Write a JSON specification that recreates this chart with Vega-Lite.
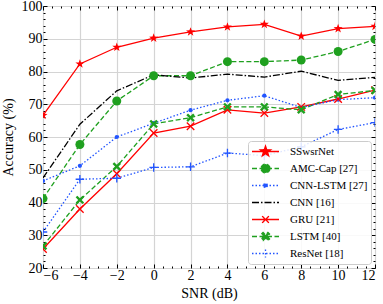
{
  "$schema": "https://vega.github.io/schema/vega-lite/v6.json",
  "width": 332,
  "height": 262,
  "autosize": {"type": "none"},
  "padding": {"left": 43, "top": 6, "right": 8, "bottom": 36},
  "config": {
    "font": "Liberation Serif",
    "view": {"stroke": "#222", "strokeWidth": 1},
    "axis": {
      "labelFont": "Liberation Serif", "labelFontSize": 14, "labelColor": "#000",
      "titleFont": "Liberation Serif", "titleFontSize": 14, "titleFontWeight": "normal", "titleColor": "#000",
      "tickColor": "#000", "tickWidth": 1, "domain": false, "gridColor": "#d4d4d4", "gridWidth": 1.2
    },
    "legend": {"labelFont": "Liberation Serif", "labelFontSize": 11, "labelColor": "#000"}
  },
  "data": {"values": [
    {"series": "SSwsrNet", "snr": -6, "acc": 66.6}, {"series": "SSwsrNet", "snr": -4, "acc": 82.3}, {"series": "SSwsrNet", "snr": -2, "acc": 87.4}, {"series": "SSwsrNet", "snr": 0, "acc": 90.2}, {"series": "SSwsrNet", "snr": 2, "acc": 92.1}, {"series": "SSwsrNet", "snr": 4, "acc": 93.6}, {"series": "SSwsrNet", "snr": 6, "acc": 94.4}, {"series": "SSwsrNet", "snr": 8, "acc": 90.8}, {"series": "SSwsrNet", "snr": 10, "acc": 93.1}, {"series": "SSwsrNet", "snr": 12, "acc": 93.8},
    {"series": "AMC-Cap [27]", "snr": -6, "acc": 41.2}, {"series": "AMC-Cap [27]", "snr": -4, "acc": 57.7}, {"series": "AMC-Cap [27]", "snr": -2, "acc": 71.0}, {"series": "AMC-Cap [27]", "snr": 0, "acc": 78.7}, {"series": "AMC-Cap [27]", "snr": 2, "acc": 78.7}, {"series": "AMC-Cap [27]", "snr": 4, "acc": 83.0}, {"series": "AMC-Cap [27]", "snr": 6, "acc": 83.0}, {"series": "AMC-Cap [27]", "snr": 8, "acc": 83.5}, {"series": "AMC-Cap [27]", "snr": 10, "acc": 86.1}, {"series": "AMC-Cap [27]", "snr": 12, "acc": 89.8},
    {"series": "CNN-LSTM [27]", "snr": -6, "acc": 46.6}, {"series": "CNN-LSTM [27]", "snr": -4, "acc": 51.2}, {"series": "CNN-LSTM [27]", "snr": -2, "acc": 60.0}, {"series": "CNN-LSTM [27]", "snr": 0, "acc": 64.2}, {"series": "CNN-LSTM [27]", "snr": 2, "acc": 68.2}, {"series": "CNN-LSTM [27]", "snr": 4, "acc": 71.2}, {"series": "CNN-LSTM [27]", "snr": 6, "acc": 72.6}, {"series": "CNN-LSTM [27]", "snr": 8, "acc": 69.0}, {"series": "CNN-LSTM [27]", "snr": 10, "acc": 71.4}, {"series": "CNN-LSTM [27]", "snr": 12, "acc": 72.0},
    {"series": "CNN [16]", "snr": -6, "acc": 47.5}, {"series": "CNN [16]", "snr": -4, "acc": 63.9}, {"series": "CNN [16]", "snr": -2, "acc": 74.1}, {"series": "CNN [16]", "snr": 0, "acc": 79.0}, {"series": "CNN [16]", "snr": 2, "acc": 78.0}, {"series": "CNN [16]", "snr": 4, "acc": 79.2}, {"series": "CNN [16]", "snr": 6, "acc": 78.3}, {"series": "CNN [16]", "snr": 8, "acc": 80.1}, {"series": "CNN [16]", "snr": 10, "acc": 77.3}, {"series": "CNN [16]", "snr": 12, "acc": 78.2},
    {"series": "GRU [21]", "snr": -6, "acc": 25.8}, {"series": "GRU [21]", "snr": -4, "acc": 38.0}, {"series": "GRU [21]", "snr": -2, "acc": 48.8}, {"series": "GRU [21]", "snr": 0, "acc": 61.2}, {"series": "GRU [21]", "snr": 2, "acc": 63.3}, {"series": "GRU [21]", "snr": 4, "acc": 68.3}, {"series": "GRU [21]", "snr": 6, "acc": 67.3}, {"series": "GRU [21]", "snr": 8, "acc": 69.2}, {"series": "GRU [21]", "snr": 10, "acc": 71.6}, {"series": "GRU [21]", "snr": 12, "acc": 74.3},
    {"series": "LSTM [40]", "snr": -6, "acc": 26.7}, {"series": "LSTM [40]", "snr": -4, "acc": 40.8}, {"series": "LSTM [40]", "snr": -2, "acc": 51.0}, {"series": "LSTM [40]", "snr": 0, "acc": 64.0}, {"series": "LSTM [40]", "snr": 2, "acc": 65.9}, {"series": "LSTM [40]", "snr": 4, "acc": 69.2}, {"series": "LSTM [40]", "snr": 6, "acc": 69.2}, {"series": "LSTM [40]", "snr": 8, "acc": 68.3}, {"series": "LSTM [40]", "snr": 10, "acc": 73.0}, {"series": "LSTM [40]", "snr": 12, "acc": 74.2},
    {"series": "ResNet [18]", "snr": -6, "acc": 31.0}, {"series": "ResNet [18]", "snr": -4, "acc": 47.1}, {"series": "ResNet [18]", "snr": -2, "acc": 47.4}, {"series": "ResNet [18]", "snr": 0, "acc": 50.7}, {"series": "ResNet [18]", "snr": 2, "acc": 50.9}, {"series": "ResNet [18]", "snr": 4, "acc": 55.1}, {"series": "ResNet [18]", "snr": 6, "acc": 54.3}, {"series": "ResNet [18]", "snr": 8, "acc": 57.0}, {"series": "ResNet [18]", "snr": 10, "acc": 62.3}, {"series": "ResNet [18]", "snr": 12, "acc": 64.4}
  ]},
  "layer": [
    {
      "transform": [{"filter": {"field": "series", "oneOf": ["SSwsrNet", "GRU [21]"]}}],
      "mark": {"type": "line", "strokeWidth": 1.3, "clip": true},
      "encoding": {
        "x": {"field": "snr", "type": "quantitative", "scale": {"domain": [-6, 12], "nice": false, "zero": false},
              "axis": {"orient": "bottom", "values": [-6, -4, -2, 0, 2, 4, 6, 8, 10, 12], "title": "SNR (dB)", "grid": true, "tickSize": -4, "labelPadding": 4, "titlePadding": 4}},
        "y": {"field": "acc", "type": "quantitative", "scale": {"domain": [20, 100], "nice": false, "zero": false},
              "axis": {"orient": "left", "values": [20, 30, 40, 50, 60, 70, 80, 90, 100], "title": "Accuracy (%)", "grid": true, "tickSize": -4, "labelPadding": 5, "titlePadding": 6}},
        "stroke": {"field": "series", "type": "nominal", "legend": null,
                  "scale": {"domain": ["AMC-Cap [27]", "CNN [16]", "CNN-LSTM [27]", "GRU [21]", "LSTM [40]", "ResNet [18]", "SSwsrNet"], "range": ["#1fa01f", "#000000", "#2255ff", "#ff0000", "#1fa01f", "#2255ff", "#ff0000"]}}
      }
    },
    {
      "transform": [{"filter": {"field": "series", "oneOf": ["AMC-Cap [27]", "LSTM [40]"]}}],
      "mark": {"type": "line", "strokeWidth": 1.3, "strokeDash": [5, 2.5], "clip": true},
      "encoding": {
        "x": {"field": "snr", "type": "quantitative", "axis": {"orient": "top", "values": [-6, -4, -2, 0, 2, 4, 6, 8, 10, 12], "labels": false, "title": null, "grid": false, "tickSize": -4}},
        "y": {"field": "acc", "type": "quantitative", "axis": {"orient": "right", "values": [20, 30, 40, 50, 60, 70, 80, 90, 100], "labels": false, "title": null, "grid": false, "tickSize": -4}},
        "stroke": {"field": "series", "type": "nominal", "legend": null}
      }
    },
    {
      "transform": [{"filter": {"field": "series", "oneOf": ["CNN-LSTM [27]", "ResNet [18]"]}}],
      "mark": {"type": "line", "strokeWidth": 1.3, "strokeDash": [1.5, 2], "clip": true},
      "encoding": {
        "x": {"field": "snr", "type": "quantitative", "axis": {"orient": "bottom", "values": [-5.5, -5, -4.5, -3.5, -3, -2.5, -1.5, -1, -0.5, 0.5, 1, 1.5, 2.5, 3, 3.5, 4.5, 5, 5.5, 6.5, 7, 7.5, 8.5, 9, 9.5, 10.5, 11, 11.5], "labels": false, "title": null, "grid": false, "tickSize": -2}},
        "y": {"field": "acc", "type": "quantitative", "axis": {"orient": "left", "values": [22, 24, 26, 28, 32, 34, 36, 38, 42, 44, 46, 48, 52, 54, 56, 58, 62, 64, 66, 68, 72, 74, 76, 78, 82, 84, 86, 88, 92, 94, 96, 98], "labels": false, "title": null, "grid": false, "tickSize": -2}},
        "stroke": {"field": "series", "type": "nominal", "legend": null}
      }
    },
    {
      "transform": [{"filter": {"field": "series", "oneOf": ["CNN [16]"]}}],
      "mark": {"type": "line", "strokeWidth": 1.3, "strokeDash": [7, 2, 1.5, 2], "clip": true},
      "encoding": {
        "x": {"field": "snr", "type": "quantitative", "axis": {"orient": "top", "values": [-5.5, -5, -4.5, -3.5, -3, -2.5, -1.5, -1, -0.5, 0.5, 1, 1.5, 2.5, 3, 3.5, 4.5, 5, 5.5, 6.5, 7, 7.5, 8.5, 9, 9.5, 10.5, 11, 11.5], "labels": false, "title": null, "grid": false, "tickSize": -2}},
        "y": {"field": "acc", "type": "quantitative", "axis": {"orient": "right", "values": [22, 24, 26, 28, 32, 34, 36, 38, 42, 44, 46, 48, 52, 54, 56, 58, 62, 64, 66, 68, 72, 74, 76, 78, 82, 84, 86, 88, 92, 94, 96, 98], "labels": false, "title": null, "grid": false, "tickSize": -2}},
        "stroke": {"field": "series", "type": "nominal", "legend": null}
      }
    },
    {
      "transform": [{"filter": "datum.series === 'SSwsrNet'"}],
      "mark": {"type": "point", "shape": "M0,-1L0.235,-0.324L0.951,-0.309L0.38,0.124L0.588,0.809L0,0.4L-0.588,0.809L-0.38,0.124L-0.951,-0.309L-0.235,-0.324Z", "size": 90, "filled": true, "color": "#ff0000", "opacity": 1, "clip": true},
      "encoding": {
        "x": {"field": "snr", "type": "quantitative", "axis": null},
        "y": {"field": "acc", "type": "quantitative", "axis": null}
      }
    },
    {
      "transform": [{"filter": "datum.series === 'AMC-Cap [27]'"}],
      "mark": {"type": "point", "shape": "circle", "size": 81, "filled": true, "color": "#1fa01f", "opacity": 1, "clip": true},
      "encoding": {
        "x": {"field": "snr", "type": "quantitative", "axis": null},
        "y": {"field": "acc", "type": "quantitative", "axis": null}
      }
    },
    {
      "transform": [{"filter": "datum.series === 'CNN-LSTM [27]'"}],
      "mark": {"type": "point", "shape": "circle", "size": 18, "filled": true, "color": "#2255ff", "opacity": 1, "clip": true},
      "encoding": {
        "x": {"field": "snr", "type": "quantitative", "axis": null},
        "y": {"field": "acc", "type": "quantitative", "axis": null}
      }
    },
    {
      "transform": [{"filter": "datum.series === 'GRU [21]'"}],
      "mark": {"type": "point", "shape": "M-1,-1L1,1M-1,1L1,-1", "size": 56, "filled": false, "strokeWidth": 1.3, "opacity": 1, "clip": true},
      "encoding": {
        "x": {"field": "snr", "type": "quantitative", "axis": null},
        "y": {"field": "acc", "type": "quantitative", "axis": null},
        "stroke": {"field": "series", "type": "nominal", "legend": null}
      }
    },
    {
      "transform": [{"filter": "datum.series === 'LSTM [40]'"}],
      "mark": {"type": "point", "shape": "M-1,-0.6L-0.6,-1L0,-0.4L0.6,-1L1,-0.6L0.4,0L1,0.6L0.6,1L0,0.4L-0.6,1L-1,0.6L-0.4,0Z", "size": 72, "filled": true, "color": "#1fa01f", "opacity": 1, "clip": true},
      "encoding": {
        "x": {"field": "snr", "type": "quantitative", "axis": null},
        "y": {"field": "acc", "type": "quantitative", "axis": null}
      }
    },
    {
      "transform": [{"filter": "datum.series === 'ResNet [18]'"}],
      "mark": {"type": "point", "shape": "M-1,0L1,0M0,-1L0,1", "size": 72, "filled": false, "strokeWidth": 1.3, "opacity": 1, "clip": true},
      "encoding": {
        "x": {"field": "snr", "type": "quantitative", "axis": null},
        "y": {"field": "acc", "type": "quantitative", "axis": null},
        "stroke": {"field": "series", "type": "nominal", "legend": null}
      }
    },
    {
      "mark": {"type": "point", "filled": false, "opacity": 1, "size": 0, "strokeWidth": 1.3},
      "encoding": {
        "x": {"field": "snr", "type": "quantitative", "axis": null},
        "y": {"field": "acc", "type": "quantitative", "axis": null},
        "color": {"field": "series", "type": "nominal",
          "scale": {"domain": ["SSwsrNet", "AMC-Cap [27]", "CNN-LSTM [27]", "CNN [16]", "GRU [21]", "LSTM [40]", "ResNet [18]"], "range": ["#ff0000", "#1fa01f", "#2255ff", "#000000", "#ff0000", "#1fa01f", "#2255ff"]},
          "legend": {"title": null, "orient": "bottom-right", "offset": 4, "padding": 3, "fillColor": "rgba(255,255,255,0.85)", "strokeColor": "#cccccc", "cornerRadius": 3, "symbolSize": 729, "clipHeight": 15, "rowPadding": 2, "labelOffset": 10, "labelFontSize": 11, "labelFont": "Liberation Serif", "symbolStrokeWidth": 1.3, "symbolOpacity": 1}},
        "fill": {"field": "series", "type": "nominal",
          "scale": {"domain": ["SSwsrNet", "AMC-Cap [27]", "CNN-LSTM [27]", "CNN [16]", "GRU [21]", "LSTM [40]", "ResNet [18]"], "range": ["#ff0000", "#1fa01f", "#2255ff", "#000000", "#ff0000", "#1fa01f", "#2255ff"]},
          "legend": {"title": null, "orient": "bottom-right", "offset": 4, "padding": 3, "fillColor": "rgba(255,255,255,0.85)", "strokeColor": "#cccccc", "cornerRadius": 3, "symbolSize": 729, "clipHeight": 15, "rowPadding": 2, "labelOffset": 10, "labelFontSize": 11, "labelFont": "Liberation Serif", "symbolStrokeWidth": 1.3, "symbolOpacity": 1}},
        "shape": {"field": "series", "type": "nominal",
          "scale": {"domain": ["SSwsrNet", "AMC-Cap [27]", "CNN-LSTM [27]", "CNN [16]", "GRU [21]", "LSTM [40]", "ResNet [18]"],
                    "range": [
                      "M-1,0L1,0M0,-0.4L0.094,-0.129L0.38,-0.124L0.152,0.049L0.235,0.324L0,0.16L-0.235,0.324L-0.152,0.049L-0.38,-0.124L-0.094,-0.129Z",
                      "M-1,0L1,0M0.33,0L0.305,0.126L0.233,0.233L0.126,0.305L0,0.33L-0.126,0.305L-0.233,0.233L-0.305,0.126L-0.33,0L-0.305,-0.126L-0.233,-0.233L-0.126,-0.305L0,-0.33L0.126,-0.305L0.233,-0.233L0.305,-0.126Z",
                      "M-1,0L1,0M0.15,0L0.106,0.106L0,0.15L-0.106,0.106L-0.15,0L-0.106,-0.106L0,-0.15L0.106,-0.106Z",
                      "M-1,0L1,0",
                      "M-1,0L1,0M-0.25,-0.25L0.25,0.25M-0.25,0.25L0.25,-0.25",
                      "M-1,0L1,0M-0.3,-0.18L-0.18,-0.3L0,-0.12L0.18,-0.3L0.3,-0.18L0.12,0L0.3,0.18L0.18,0.3L0,0.12L-0.18,0.3L-0.3,0.18L-0.12,0Z",
                      "M-1,0L1,0M0,-0.3L0,0.3"
                    ]},
          "legend": {"title": null, "orient": "bottom-right", "offset": 4, "padding": 3, "fillColor": "rgba(255,255,255,0.85)", "strokeColor": "#cccccc", "cornerRadius": 3, "symbolSize": 729, "clipHeight": 15, "rowPadding": 2, "labelOffset": 10, "labelFontSize": 11, "labelFont": "Liberation Serif", "symbolStrokeWidth": 1.3, "symbolOpacity": 1}},
        "strokeDash": {"field": "series", "type": "nominal",
          "scale": {"domain": ["SSwsrNet", "AMC-Cap [27]", "CNN-LSTM [27]", "CNN [16]", "GRU [21]", "LSTM [40]", "ResNet [18]"], "range": [[1, 0], [5, 2.5], [1.5, 2], [7, 2, 1.5, 2], [1, 0], [5, 2.5], [1.5, 2]]},
          "legend": {"title": null, "orient": "bottom-right", "offset": 4, "padding": 3, "fillColor": "rgba(255,255,255,0.85)", "strokeColor": "#cccccc", "cornerRadius": 3, "symbolSize": 729, "clipHeight": 15, "rowPadding": 2, "labelOffset": 10, "labelFontSize": 11, "labelFont": "Liberation Serif", "symbolStrokeWidth": 1.3, "symbolOpacity": 1}}
      }
    }
  ],
  "resolve": {"axis": {"x": "independent", "y": "independent"}}
}
